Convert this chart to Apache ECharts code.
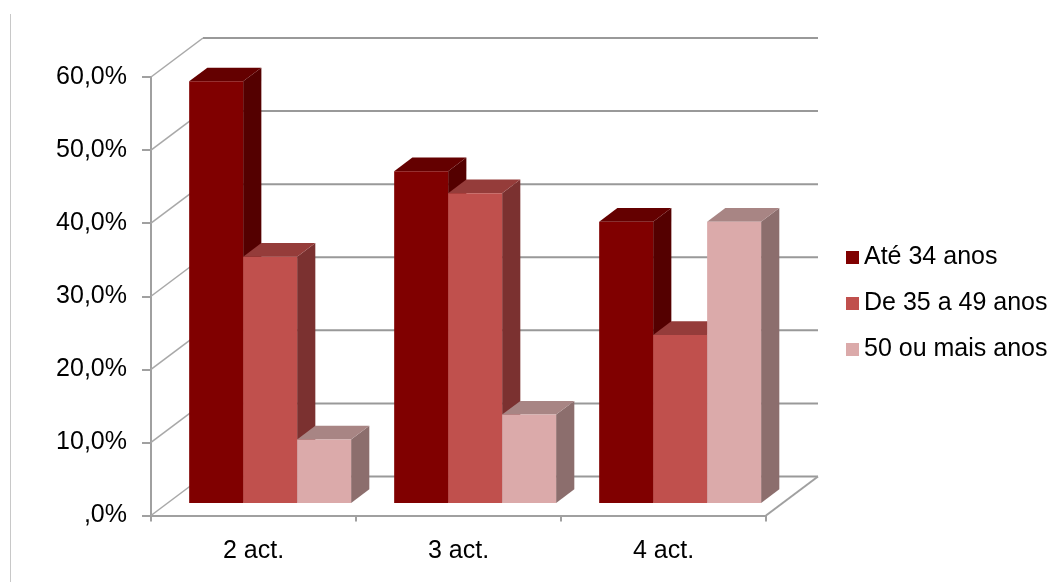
<!DOCTYPE html>
<html>
<head>
<meta charset="utf-8">
<script src="https://cdn.jsdelivr.net/npm/echarts@6/dist/echarts.min.js"></script>
<style>
html,body{margin:0;padding:0;background:#fff;}
#chart{width:1064px;height:582px;}
</style>
</head>
<body>
<div id="chart"></div>
<script>
// ---- data ----
const categories = ['2 act.', '3 act.', '4 act.'];
const seriesNames = ['Até 34 anos', 'De 35 a 49 anos', '50 ou mais anos'];
const ate34 = [57.7, 45.4, 38.5];
const de35a49 = [33.7, 42.4, 23.0];
const mais50 = [8.7, 12.1, 38.5];
const yTicks = [0, 10, 20, 30, 40, 50, 60];

// ---- style ----
const DX = 52, DY = -39;      // depth offset of back wall
const F = 0.32, D = 0.35;     // bar front depth fraction, bar depth fraction
const palette = [
  {front: '#800000', side: '#540000', top: '#640000'},
  {front: '#C0504D', side: '#7B3130', top: '#953C3A'},
  {front: '#DBAAAA', side: '#8C6E6D', top: '#A88584'}
];
const FONT = '"Liberation Sans", Arial, sans-serif';

function renderFrame(params, api) {
  const band = api.size([1, 0])[0];
  const xl = api.coord([0, 0])[0] - band / 2;
  const xr = api.coord([categories.length - 1, 0])[0] + band / 2;
  const children = [];
  yTicks.forEach(function (v) {
    const y = api.coord([0, v])[1];
    children.push({type: 'line', shape: {x1: xl, y1: y, x2: xl + DX, y2: y + DY},
      style: {stroke: '#a8a8a8', lineWidth: 1.5}});
    children.push({type: 'line', shape: {x1: xl + DX, y1: y + DY, x2: xr + DX, y2: y + DY},
      style: {stroke: '#999999', lineWidth: 2}});
  });
  const y0 = api.coord([0, 0])[1];
  children.push({type: 'line', shape: {x1: xr, y1: y0, x2: xr + DX, y2: y0 + DY},
    style: {stroke: '#a0a0a0', lineWidth: 2}});
  return {type: 'group', children: children};
}

function makeBar(si) {
  return function (params, api) {
    const cat = api.value(0), v = api.value(1);
    const c = api.coord([cat, v]);
    const b = api.coord([cat, 0]);
    const band = api.size([1, 0])[0];
    const groupW = band * 0.79;
    const bw = groupW / 3;
    const x0 = c[0] - groupW / 2 + si * bw + DX * F;
    const x1 = x0 + bw;
    const yt = c[1] + DY * F;
    const yb = b[1] + DY * F;
    const sx = DX * D, sy = DY * D;
    const col = palette[si];
    return {type: 'group', children: [
      {type: 'polygon', shape: {points: [[x1, yt], [x1 + sx, yt + sy], [x1 + sx, yb + sy], [x1, yb]]},
        style: {fill: col.side}},
      {type: 'polygon', shape: {points: [[x0, yt], [x0 + sx, yt + sy], [x1 + sx, yt + sy], [x1, yt]]},
        style: {fill: col.top}},
      {type: 'rect', shape: {x: x0, y: yt, width: bw, height: yb - yt},
        style: {fill: col.front}}
    ]};
  };
}

const allValues = [ate34, de35a49, mais50];
const series = [{
  type: 'custom', name: '_frame', silent: true, z: 1,
  renderItem: renderFrame, data: [[0, 0]], legendHoverLink: false
}];
allValues.forEach(function (vals, si) {
  series.push({
    type: 'custom', name: seriesNames[si], z: 2 + si,
    itemStyle: {color: palette[si].front},
    renderItem: makeBar(si),
    data: vals.map(function (v, i) { return [i, v]; })
  });
});

const chart = echarts.init(document.getElementById('chart'), null, {renderer: 'canvas'});
chart.setOption({
  backgroundColor: '#ffffff',
  animation: false,
  graphic: [{type: 'line', shape: {x1: 10.5, y1: 14, x2: 10.5, y2: 582},
    style: {stroke: '#c8c8c8', lineWidth: 1}, silent: true}],
  grid: {left: 151, right: 298, top: 77, bottom: 66.5, containLabel: false},
  legend: {
    data: seriesNames, orient: 'vertical', left: 841, top: 240, padding: 5,
    icon: 'rect', itemWidth: 13, itemHeight: 13, itemGap: 21,
    selectedMode: false,
    textStyle: {fontFamily: FONT, fontSize: 25, color: '#000'}
  },
  xAxis: {
    type: 'category', data: categories, boundaryGap: true,
    axisLine: {lineStyle: {color: '#a0a0a0', width: 2}},
    axisTick: {show: true, length: 6, lineStyle: {color: '#a0a0a0', width: 2}},
    axisLabel: {fontFamily: FONT, fontSize: 25, color: '#000', margin: 23},
    splitLine: {show: false}
  },
  yAxis: {
    type: 'value', min: 0, max: 60, interval: 10,
    axisLine: {show: true, lineStyle: {color: '#a0a0a0', width: 2}},
    axisTick: {show: true, length: 9, lineStyle: {color: '#a0a0a0', width: 2}},
    axisLabel: {fontFamily: FONT, fontSize: 25, color: '#000', margin: 24,
      formatter: function (v) { return v === 0 ? ',0%' : v.toFixed(1).replace('.', ',') + '%'; }},
    splitLine: {show: false}
  },
  series: series
});
</script>
</body>
</html>
